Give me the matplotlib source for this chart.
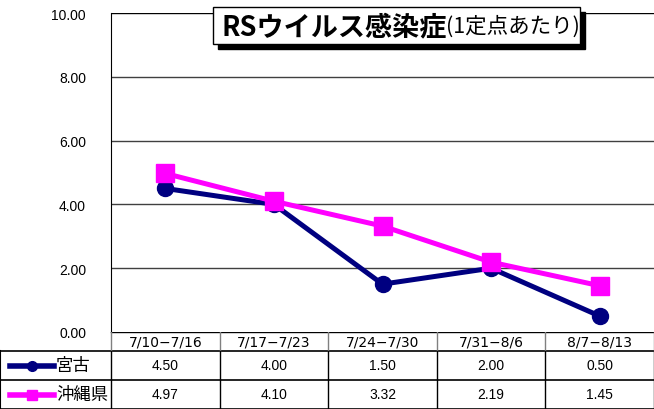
import matplotlib
matplotlib.use("Agg")
import matplotlib.pyplot as plt
from matplotlib.patches import Rectangle
from matplotlib.lines import Line2D
from matplotlib.text import Annotation

plt.rcParams['font.family'] = ['Noto Sans CJK JP', 'DejaVu Sans']

# data
weeks = ["7/10-7/16", "7/17-7/23", "7/24-7/30", "7/31-8/6", "8/7-8/13"]
miyako = [4.50, 4.00, 1.50, 2.00, 0.50]
okinawa = [4.97, 4.10, 3.32, 2.19, 1.45]
series_names = ["宮古", "沖縄県"]
yticks = [0, 2, 4, 6, 8, 10]

W, H = 654, 410
fig = plt.figure(figsize=(W / 100, H / 100), dpi=100)

# main plot area (pixel layout)
x0, x1 = 111, 654
y_top, y_bot = 14, 333
ax = fig.add_axes([x0 / W, (H - y_bot) / H, (x1 - x0) / W, (y_bot - y_top) / H])

xs = list(range(len(weeks)))
navy = "#000080"
magenta = "#ff00ff"
ax.plot(xs, miyako, color=navy, lw=3.6, marker="o", ms=11.5, zorder=3)
ax.plot(xs, okinawa, color=magenta, lw=3.6, marker="s", ms=12.5, zorder=4)

ax.set_xlim(-0.5, len(weeks) - 0.5)
ax.set_ylim(0, 10)
ax.set_yticks(yticks)
ax.set_yticklabels([f"{v:.2f}" for v in yticks], fontsize=10, family=['Liberation Sans', 'DejaVu Sans'])
ax.tick_params(axis="y", length=0, pad=18)
ax.set_xticks([])
for y in yticks[1:]:
    ax.axhline(y, color="#404040" if y < 10 else "black", lw=1, zorder=1)
for s in ["top", "right", "bottom"]:
    ax.spines[s].set_visible(False)
ax.spines["left"].set_color("black")

# title box with shadow
bx0, by0, bx1, by1 = 213, 8, 580, 45
fig.patches.append(Rectangle(((bx0 + 5) / W, (H - by1 - 5) / H), (bx1 - bx0) / W, (by1 - by0) / H,
                             transform=fig.transFigure, facecolor="black", edgecolor="black", zorder=5))
fig.patches.append(Rectangle((bx0 / W, (H - by1) / H), (bx1 - bx0) / W, (by1 - by0) / H,
                             transform=fig.transFigure, facecolor="white", edgecolor="black", lw=1, zorder=6))
t1 = fig.text(221 / W, (H - 27) / H, "RSウイルス感染症", fontsize=19.5, fontweight="bold",
              va="center", ha="left", zorder=7)
t2 = Annotation("(1定点あたり)", xy=(1, 0.5), xycoords=t1, va="center", ha="left",
                fontsize=15.5, zorder=7)
fig.add_artist(t2)

# data table below the plot
tab = fig.add_axes([0, 0, 1, (H - y_bot) / H])
scale = (x1 - x0) / len(weeks)
tab.set_xlim(-0.5 - x0 / scale, len(weeks) - 0.5)
tab.set_ylim(H - y_bot, 0)
tab.axis("off")

row_y = [0, 19, 48, 77]
left = -0.5 - x0 / scale
right = len(weeks) - 0.5
# horizontal lines
tab.plot([-0.5, right], [row_y[0]] * 2, color="black", lw=1)
for yy in row_y[1:]:
    tab.plot([left, right], [yy] * 2, color="black", lw=1.2)
# vertical lines
tab.plot([left, left], [row_y[1], row_y[3]], color="black", lw=1.5)
for i in range(len(weeks) + 1):
    xv = i - 0.5
    tab.plot([xv, xv], [row_y[0], row_y[1]], color="#808080", lw=1)
    tab.plot([xv, xv], [row_y[1], row_y[3]], color="black", lw=1)

for i, w in enumerate(weeks):
    tab.text(i, (row_y[0] + row_y[1]) / 2, w.replace("-", "−"), ha="center", va="center", fontsize=10,
             family=['DejaVu Sans'])
for r, vals in enumerate([miyako, okinawa]):
    yc = (row_y[r + 1] + row_y[r + 2]) / 2
    for i, v in enumerate(vals):
        tab.text(i, yc, f"{v:.2f}", ha="center", va="center", fontsize=10,
                 family=['Liberation Sans', 'DejaVu Sans'])

# row labels with legend keys
keys = [(navy, "o", 7), (magenta, "s", 7.5)]
for r, (name, (c, m, ms)) in enumerate(zip(series_names, keys)):
    yc = (row_y[r + 1] + row_y[r + 2]) / 2
    kx = [left + 10 / scale, left + 54 / scale]
    tab.add_line(Line2D(kx, [yc, yc], color=c, lw=4))
    tab.add_line(Line2D([sum(kx) / 2], [yc], color=c, marker=m, ms=ms))
    tab.text(left + 56 / scale, yc, name, ha="left", va="center", fontsize=12.5)

fig.savefig("out.png", dpi=100)
